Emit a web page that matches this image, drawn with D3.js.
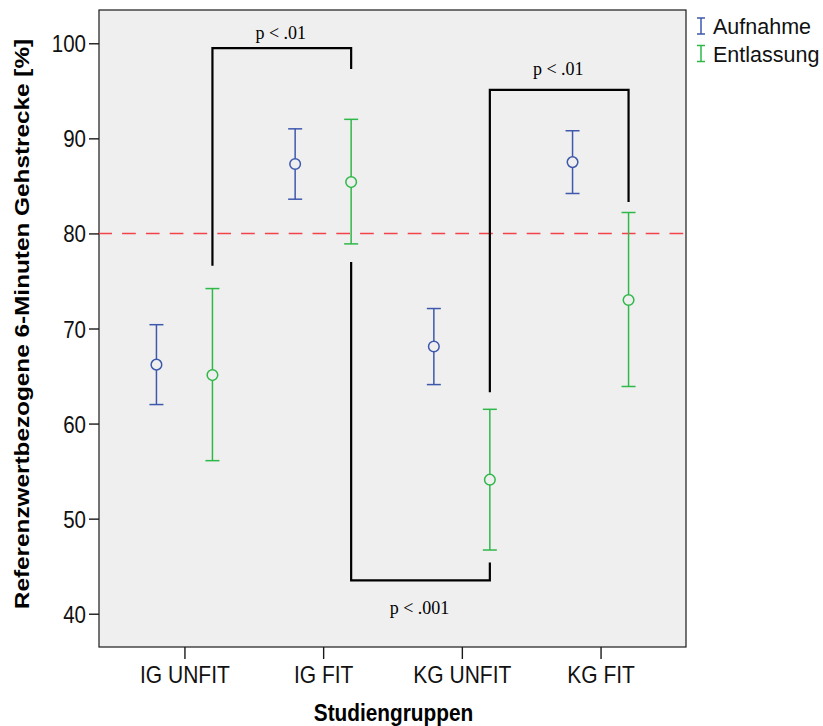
<!DOCTYPE html>
<html>
<head>
<meta charset="utf-8">
<script src="https://cdn.jsdelivr.net/npm/d3@7"></script>
<style>
	body { margin: 0; background: #fff; }
	svg { display: block; }
</style>
</head>
<body>
<svg id="chart" width="823" height="726"></svg>
<script>
// study groups on the x axis
const groups = ["IG UNFIT", "IG FIT", "KG UNFIT", "KG FIT"];
const seriesNames = ["Aufnahme", "Entlassung"];

// Aufnahme (admission): mean and error bar limits
const aufMean = [66.2, 87.3, 68.1, 87.5];
const aufLow  = [62.0, 83.6, 64.1, 84.2];
const aufHigh = [70.4, 91.0, 72.1, 90.8];

// Entlassung (discharge)
const entMean = [65.1, 85.4, 54.1, 73.0];
const entLow  = [56.1, 78.9, 46.7, 63.9];
const entHigh = [74.2, 92.0, 61.5, 82.2];

const yTicks = [40, 50, 60, 70, 80, 90, 100];
const refValue = 80;

// significance brackets (between Entlassung positions)
const bracketFrom  = ["IG UNFIT", "IG FIT", "KG UNFIT"];
const bracketTo    = ["IG FIT", "KG UNFIT", "KG FIT"];
const bracketStart = [76.6, 77.0, 63.3];
const bracketLevel = [99.5, 43.5, 95.1];
const bracketEnd   = [97.3, 45.4, 83.3];
const bracketText  = ["p < .01", "p < .001", "p < .01"];
const bracketTextAt = [100.45, 40.0, 96.7];

const blue = "#3e58ac", green = "#2eb848";
const colors = [blue, green];
const sans = "Arial, 'Liberation Sans', sans-serif";
const stretch = 1.16;   // text in the original is drawn a bit taller than wide

const svg = d3.select("#chart");
const plotLeft = 99, plotRight = 686, plotTop = 10, plotBottom = 647;

const x = d3.scalePoint().domain(groups).range([plotLeft, plotRight]).padding(0.616);
const y = d3.scaleLinear().domain([36.5, 103.5]).range([plotBottom, plotTop]);
const offset = 28;

// scale a text vertically around its own anchor
function tall(sel, k) {
	sel.each(function() {
		const t = d3.select(this);
		const ty = +t.attr("y") || 0;
		t.attr("transform", "translate(0," + ty + ") scale(1," + k + ") translate(0," + (-ty) + ")");
	});
}

// plot background
svg.append("rect")
	.attr("x", plotLeft).attr("y", plotTop)
	.attr("width", plotRight - plotLeft).attr("height", plotBottom - plotTop)
	.attr("fill", "#efefef")
	.attr("stroke", "#1a1a1a").attr("stroke-width", 1.2);

// reference line
svg.append("line")
	.attr("x1", plotLeft).attr("x2", plotRight)
	.attr("y1", y(refValue)).attr("y2", y(refValue))
	.attr("stroke", "#f2434b").attr("stroke-width", 1.6)
	.attr("stroke-dasharray", "13.7,10.1")
	.attr("stroke-dashoffset", 0.7);

// axes
const yAxis = svg.append("g")
	.attr("transform", "translate(" + plotLeft + ",0)")
	.call(d3.axisLeft(y).tickValues(yTicks).tickSize(10).tickPadding(3));
const xAxis = svg.append("g")
	.attr("transform", "translate(0," + plotBottom + ")")
	.call(d3.axisBottom(x).tickSize(12).tickPadding(5));

[yAxis, xAxis].forEach(g => {
	g.select(".domain").remove();
	g.selectAll(".tick line").attr("stroke", "#1a1a1a").attr("stroke-width", 1.4);
	g.selectAll("text")
		.attr("fill", "#111")
		.style("font-family", sans)
		.style("font-size", "20.5px");
});
yAxis.selectAll("text").attr("dy", "0.36em");
xAxis.selectAll("text").attr("dy", "0.76em").style("font-size", "21px");
tall(yAxis.selectAll("text"), stretch);
tall(xAxis.selectAll("text"), stretch);

// axis titles
svg.append("text")
	.attr("x", (plotLeft + plotRight) / 2 + 1).attr("y", 721)
	.attr("text-anchor", "middle")
	.style("font-family", sans)
	.style("font-size", "20.8px").style("font-weight", "bold")
	.text("Studiengruppen")
	.call(tall, stretch);

svg.append("text")
	.attr("transform", "translate(29,324) rotate(-90) scale(" + 1.17 + ",1)")
	.attr("text-anchor", "middle")
	.style("font-family", sans)
	.style("font-size", "20.8px").style("font-weight", "bold")
	.text("Referenzwertbezogene 6-Minuten Gehstrecke [%]");

// error bars
const series = [
	{ name: seriesNames[0], mean: aufMean, low: aufLow, high: aufHigh, dx: -offset, color: blue },
	{ name: seriesNames[1], mean: entMean, low: entLow, high: entHigh, dx: offset, color: green }
];
const capW = 7;

series.forEach(s => {
	const g = svg.append("g")
		.attr("stroke", s.color).attr("fill", "none").attr("stroke-width", 1.5);
	groups.forEach((grp, i) => {
		const cx = x(grp) + s.dx;
		g.append("line").attr("x1", cx).attr("x2", cx)
			.attr("y1", y(s.low[i])).attr("y2", y(s.high[i]));
		g.append("line").attr("x1", cx - capW).attr("x2", cx + capW)
			.attr("y1", y(s.low[i])).attr("y2", y(s.low[i]));
		g.append("line").attr("x1", cx - capW).attr("x2", cx + capW)
			.attr("y1", y(s.high[i])).attr("y2", y(s.high[i]));
		g.append("circle").attr("cx", cx).attr("cy", y(s.mean[i])).attr("r", 5.3)
			.attr("fill", "#efefef");
	});
});

// significance brackets
bracketFrom.forEach((from, i) => {
	const x1 = x(from) + offset, x2 = x(bracketTo[i]) + offset;
	const yl = y(bracketLevel[i]);
	svg.append("path")
		.attr("d", "M" + x1 + "," + y(bracketStart[i]) + "V" + yl + "H" + x2 + "V" + y(bracketEnd[i]))
		.attr("fill", "none").attr("stroke", "#000").attr("stroke-width", 2.2);
	svg.append("text")
		.attr("x", (x1 + x2) / 2 - 1)
		.attr("y", y(bracketTextAt[i]))
		.attr("text-anchor", "middle")
		.style("font-family", "'Times New Roman', 'Liberation Serif', serif")
		.style("font-size", "18px")
		.text(bracketText[i]);
});

// legend
const legend = svg.append("g").attr("transform", "translate(701,0)");
seriesNames.forEach((name, i) => {
	const cy = 26 + i * 27.5;
	const g = legend.append("g").attr("stroke", colors[i]).attr("stroke-width", 1.5);
	g.append("line").attr("x1", 0).attr("x2", 0).attr("y1", cy - 8).attr("y2", cy + 8);
	g.append("line").attr("x1", -4).attr("x2", 4).attr("y1", cy - 8).attr("y2", cy - 8);
	g.append("line").attr("x1", -4).attr("x2", 4).attr("y1", cy + 8).attr("y2", cy + 8);
	legend.append("text")
		.attr("x", 12).attr("y", cy + 8)
		.style("font-family", sans)
		.style("font-size", "21.5px")
		.attr("fill", "#111")
		.text(name);
});
</script>
</body>
</html>
